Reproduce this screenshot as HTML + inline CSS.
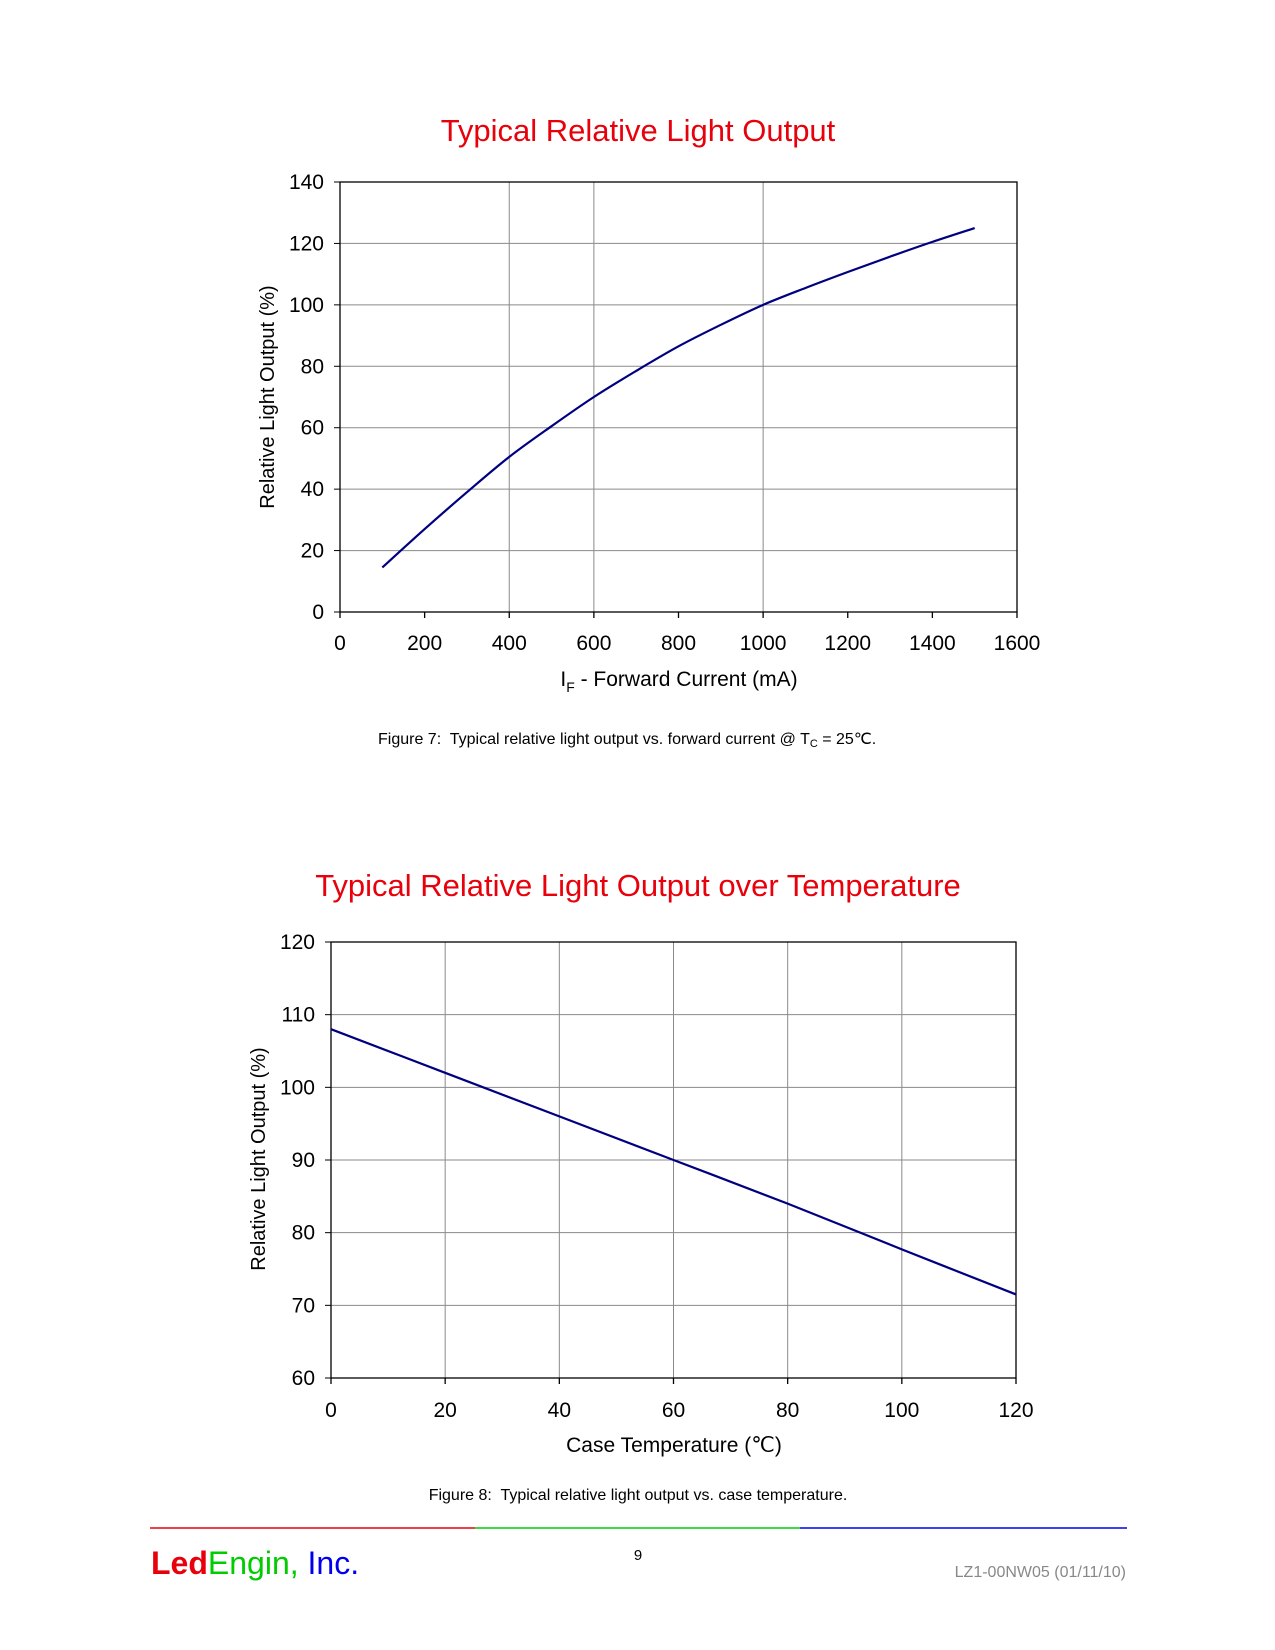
<!DOCTYPE html>
<html><head><meta charset="utf-8"><style>
body{margin:0;background:#fff;}
svg{display:block;font-family:"Liberation Sans",sans-serif;}
text{white-space:pre;}
</style></head><body>
<svg width="1275" height="1650" viewBox="0 0 1275 1650">
<g id="c1">
<text x="638" y="141" font-size="31" fill="#e8000b" text-anchor="middle">Typical Relative Light Output</text>
<text transform="translate(274,397) rotate(-90)" font-size="20" text-anchor="middle">Relative Light Output (%)</text>
<text x="679" y="686" font-size="21" text-anchor="middle">I<tspan font-size="14" dy="6">F</tspan><tspan dy="-6"> - Forward Current (mA)</tspan></text>
<text x="378" y="744" font-size="16">Figure 7:  Typical relative light output vs. forward current @ T<tspan font-size="11" dy="3">C</tspan><tspan dy="-3"> = 25℃.</tspan></text>
</g>
<g id="c2">
<text x="638" y="896" font-size="31" fill="#e8000b" text-anchor="middle">Typical Relative Light Output over Temperature</text>
<text transform="translate(265,1159) rotate(-90)" font-size="20" text-anchor="middle">Relative Light Output (%)</text>
<text x="674" y="1452" font-size="21" text-anchor="middle">Case Temperature (℃)</text>
<text x="638" y="1500" font-size="16" text-anchor="middle">Figure 8:  Typical relative light output vs. case temperature.</text>
</g>
<g>
<line x1="150" y1="1528" x2="475" y2="1528" stroke="#e8000b" stroke-width="1.5"/>
<line x1="475" y1="1528" x2="800" y2="1528" stroke="#00cc00" stroke-width="1.5"/>
<line x1="800" y1="1528" x2="1127" y2="1528" stroke="#0000ee" stroke-width="1.5"/>
<text x="151" y="1574" font-size="32"><tspan fill="#e8000b" font-weight="bold">Led</tspan><tspan fill="#00cc00">Engin, </tspan><tspan fill="#0000ee">Inc.</tspan></text>
<text x="638" y="1560" font-size="15" text-anchor="middle">9</text>
<text x="1126" y="1577" font-size="16" fill="#888" text-anchor="end">LZ1-00NW05 (01/11/10)</text>
</g>
</svg>
<script>
const c1X=[100,200,300,400,500,600,700,800,900,1000,1100,1200,1300,1400,1500];
const c1Y=[14.5,27,39,50.5,60.5,70,78.5,86.5,93.5,100,105.5,110.7,115.7,120.5,125];
const c1XTicks=[0,200,400,600,800,1000,1200,1400,1600];
const c1YTicks=[0,20,40,60,80,100,120,140];
const c2X=[0,20,40,60,80,100,120];
const c2Y=[108,102,96,90,84,77.7,71.5];
const c2XTicks=[0,20,40,60,80,100,120];
const c2YTicks=[60,70,80,90,100,110,120];
const NS="http://www.w3.org/2000/svg";
function mk(p,t,a){const e=document.createElementNS(NS,t);for(const k in a)e.setAttribute(k,a[k]);p.appendChild(e);return e;}
function smooth(pts){
 let d='M'+pts[0][0]+','+pts[0][1];
 for(let i=0;i<pts.length-1;i++){
  const p0=pts[i-1]||pts[i],p1=pts[i],p2=pts[i+1],p3=pts[i+2]||p2;
  const c1=[p1[0]+(p2[0]-p0[0])/6,p1[1]+(p2[1]-p0[1])/6];
  const c2=[p2[0]-(p3[0]-p1[0])/6,p2[1]-(p3[1]-p1[1])/6];
  d+='C'+c1[0]+','+c1[1]+' '+c2[0]+','+c2[1]+' '+p2[0]+','+p2[1];
 }
 return d;
}
function chart(g,L,R,T,B,xmin,xmax,ymin,ymax,xt,yt,xgrid,pre,xlabY,ylabX){
 const sx=v=>L+(v-xmin)/(xmax-xmin)*(R-L), sy=v=>B-(v-ymin)/(ymax-ymin)*(B-T);
 yt.forEach(v=>{
  const gl=mk(g,'line',{x1:L,x2:R,y1:sy(v),y2:sy(v),stroke:'#8a8a8a','stroke-width':1});
  
  
  const tk=mk(g,'line',{x1:L-6,x2:L,y1:sy(v),y2:sy(v),stroke:'#000','stroke-width':1});
  
  
  const t=mk(g,'text',{x:ylabX,y:sy(v)+7,'font-size':21,'text-anchor':'end'});t.textContent=v;
  
  
 });
 xt.forEach(v=>{
  if(xgrid.includes(v)){const gl=mk(g,'line',{x1:sx(v),x2:sx(v),y1:T,y2:B,stroke:'#8a8a8a','stroke-width':1});
  
  }
  const tk=mk(g,'line',{x1:sx(v),x2:sx(v),y1:B,y2:B+6,stroke:'#000','stroke-width':1.3});
  
  
  const t=mk(g,'text',{x:sx(v),y:xlabY,'font-size':21,'text-anchor':'middle'});t.textContent=v;
  
  
 });
 const fr=mk(g,'rect',{x:L,y:T,width:R-L,height:B-T,fill:'none',stroke:'#000','stroke-width':1.3});
 
 
 return {sx,sy};
}
const g1=document.getElementById('c1'),g2=document.getElementById('c2');
const a1=chart(g1,340,1017,182,612,0,1600,0,140,c1XTicks,c1YTicks,[400,600,1000],'chart1-',650,324);
const p1=mk(g1,'path',{d:smooth(c1X.map((x,i)=>[a1.sx(x),a1.sy(c1Y[i])])),fill:'none',stroke:'#000080','stroke-width':2.2});


const a2=chart(g2,331,1016,942,1378,0,120,60,120,c2XTicks,c2YTicks,[20,40,60,80,100],'chart2-',1417,315);
const p2=mk(g2,'path',{d:smooth(c2X.map((x,i)=>[a2.sx(x),a2.sy(c2Y[i])])),fill:'none',stroke:'#000080','stroke-width':2.2});


</script>
</body></html>
